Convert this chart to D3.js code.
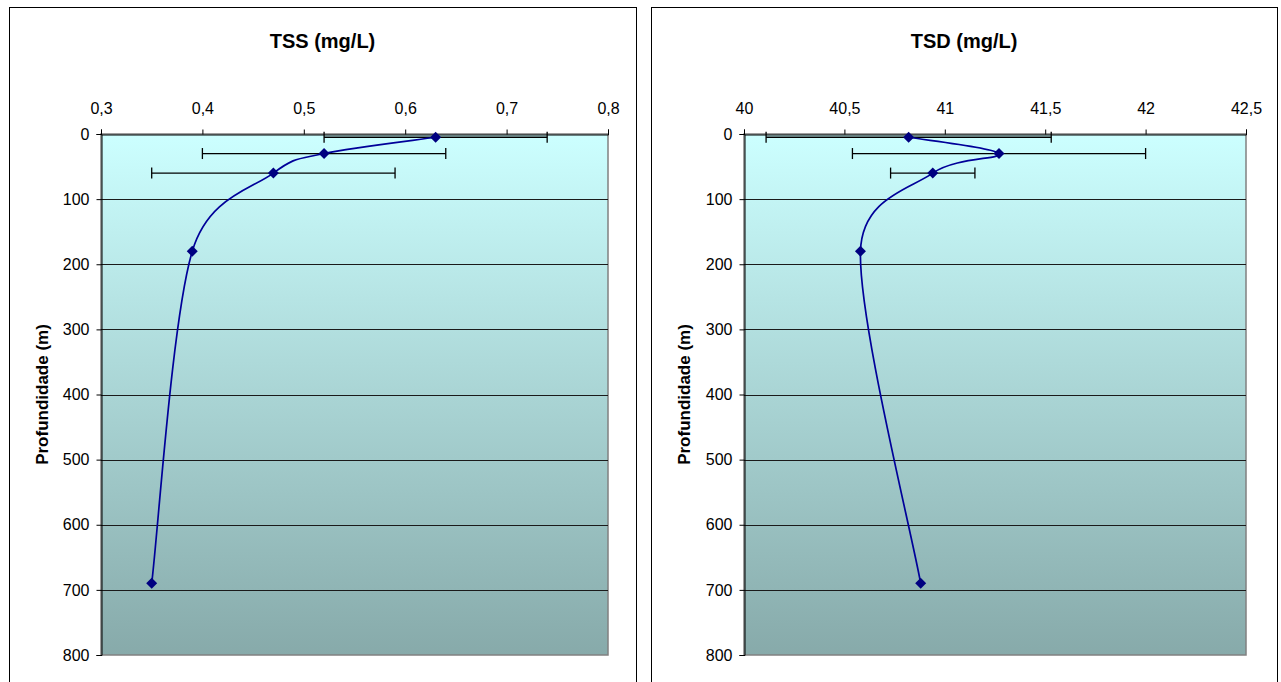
<!DOCTYPE html>
<html>
<head>
<meta charset="utf-8">
<script src="https://cdn.jsdelivr.net/npm/d3@7"></script>
<style>
  body { margin: 0; background: #fff; }
  svg { display: block; font-family: "Liberation Sans", Arial, sans-serif; }
</style>
</head>
<body>
<svg id="chart" width="1281" height="682"></svg>
<script>
// depth (m) of each sample
const depths = [5, 30, 60, 180, 690];

// TSS (mg/L)
const tssValues = [0.63, 0.52, 0.47, 0.39, 0.35];
const tssErrLow = [0.52, 0.40, 0.35, null, null];
const tssErrHigh = [0.74, 0.64, 0.59, null, null];
const tssTicks = [0.3, 0.4, 0.5, 0.6, 0.7, 0.8];

// TSD (mg/L)
const tsdValues = [40.82, 41.27, 40.94, 40.58, 40.88];
const tsdErrLow = [40.11, 40.54, 40.73, null, null];
const tsdErrHigh = [41.53, 42.0, 41.15, null, null];
const tsdTicks = [40, 40.5, 41, 41.5, 42, 42.5];

const depthTicks = [0, 100, 200, 300, 400, 500, 600, 700, 800];

const svg = d3.select("#chart");
const fmt = d => String(d).replace(".", ",");

// spreadsheet-style smoothing: catmull-rom tangents, arms capped at half the segment
function curveSmooth(context) {
    let pts = [];
    return {
        areaStart() {}, areaEnd() {},
        lineStart() { pts = []; },
        point(x, y) { pts.push([+x, +y]); },
        lineEnd() {
            const n = pts.length;
            if (!n) return;
            context.moveTo(pts[0][0], pts[0][1]);
            const tan = pts.map((p, i) => {
                const a = pts[Math.max(i - 1, 0)], b = pts[Math.min(i + 1, n - 1)];
                return [(b[0] - a[0]) / 6, (b[1] - a[1]) / 6];
            });
            const cap = (t, len) => {
                const l = Math.hypot(t[0], t[1]);
                const k = l > len * 0.5 ? (len * 0.5) / l : 1;
                return [t[0] * k, t[1] * k];
            };
            for (let i = 0; i < n - 1; i++) {
                const p0 = pts[i], p1 = pts[i + 1];
                const len = Math.hypot(p1[0] - p0[0], p1[1] - p0[1]);
                const t0 = cap(tan[i], len), t1 = cap(tan[i + 1], len);
                context.bezierCurveTo(p0[0] + t0[0], p0[1] + t0[1],
                    p1[0] - t1[0], p1[1] - t1[1], p1[0], p1[1]);
            }
        }
    };
}

// gradient for plot area
const defs = svg.append("defs");
const grad = defs.append("linearGradient")
    .attr("id", "bg").attr("x1", 0).attr("y1", 0).attr("x2", 0).attr("y2", 1);
grad.append("stop").attr("offset", "0%").attr("stop-color", "#ccffff");
grad.append("stop").attr("offset", "100%").attr("stop-color", "#87aaaa");

function drawPanel(opts) {
    const { left, right, plotLeft, plotRight, title, values, errLow, errHigh, ticks } = opts;
    const plotTop = 134, plotBottom = 655;

    // panel frame
    svg.append("rect")
        .attr("x", left + 0.5).attr("y", 7.5)
        .attr("width", right - left).attr("height", 700)
        .attr("fill", "#fff").attr("stroke", "#000").attr("stroke-width", 1);

    const x = d3.scaleLinear().domain(d3.extent(ticks)).range([plotLeft, plotRight]);
    const y = d3.scaleLinear().domain([0, 800]).range([plotTop, plotBottom]);

    // plot area
    svg.append("rect")
        .attr("x", plotLeft).attr("y", plotTop)
        .attr("width", plotRight - plotLeft).attr("height", plotBottom - plotTop)
        .attr("fill", "url(#bg)")
        .attr("stroke", "#808080").attr("stroke-width", 1.5);

    // gridlines
    svg.append("g").selectAll("line")
        .data(depthTicks.filter(d => d > 0 && d < 800))
        .enter().append("line")
        .attr("x1", plotLeft).attr("x2", plotRight)
        .attr("y1", d => Math.round(y(d)) + 0.5).attr("y2", d => Math.round(y(d)) + 0.5)
        .attr("stroke", "#1a1a1a").attr("stroke-width", 1);

    // top axis
    const xAxis = svg.append("g")
        .attr("transform", `translate(0,${plotTop + 0.5})`)
        .call(d3.axisTop(x).tickValues(ticks).tickFormat(fmt).tickSize(5).tickPadding(16));
    xAxis.select(".domain").attr("stroke", "#000");
    xAxis.selectAll("text").attr("font-size", 16).attr("fill", "#000")
        .attr("font-family", "Liberation Sans, Arial, sans-serif");

    // left axis
    const yAxis = svg.append("g")
        .attr("transform", `translate(${plotLeft + 0.5},0)`)
        .call(d3.axisLeft(y).tickValues(depthTicks).tickSize(5).tickPadding(7));
    yAxis.select(".domain").attr("stroke", "#000");
    yAxis.selectAll("text").attr("font-size", 16).attr("fill", "#000")
        .attr("font-family", "Liberation Sans, Arial, sans-serif");

    // title
    svg.append("text")
        .attr("x", (left + right) / 2).attr("y", 48)
        .attr("text-anchor", "middle")
        .attr("font-size", 20).attr("font-weight", "bold")
        .text(title);

    // y label
    svg.append("text")
        .attr("transform", `translate(${left + 39},${(plotTop + plotBottom) / 2}) rotate(-90)`)
        .attr("text-anchor", "middle")
        .attr("font-size", 17).attr("font-weight", "bold")
        .text("Profundidade (m)");

    // error bars
    const errs = depths.map((d, i) => ({ d, lo: errLow[i], hi: errHigh[i] })).filter(e => e.lo != null);
    const eg = svg.append("g").attr("stroke", "#000").attr("stroke-width", 1.3);
    errs.forEach(e => {
        const yy = y(e.d);
        eg.append("line").attr("x1", x(e.lo)).attr("x2", x(e.hi)).attr("y1", yy).attr("y2", yy);
        eg.append("line").attr("x1", x(e.lo)).attr("x2", x(e.lo)).attr("y1", yy - 5.5).attr("y2", yy + 5.5);
        eg.append("line").attr("x1", x(e.hi)).attr("x2", x(e.hi)).attr("y1", yy - 5.5).attr("y2", yy + 5.5);
    });

    // smoothed profile line
    const pts = depths.map((d, i) => [values[i], d]);
    const line = d3.line()
        .x(p => x(p[0]))
        .y(p => y(p[1]))
        .curve(curveSmooth);
    svg.append("path")
        .datum(pts)
        .attr("fill", "none")
        .attr("stroke", "#000099")
        .attr("stroke-width", 1.7)
        .attr("d", line);

    // diamond markers
    svg.append("g").selectAll("path")
        .data(pts)
        .enter().append("path")
        .attr("transform", p => `translate(${x(p[0])},${y(p[1])})`)
        .attr("d", "M0,-5.5L5.5,0L0,5.5L-5.5,0Z")
        .attr("fill", "#000080");
}

drawPanel({
    left: 9, right: 636, plotLeft: 101, plotRight: 608,
    title: "TSS (mg/L)", values: tssValues, errLow: tssErrLow, errHigh: tssErrHigh, ticks: tssTicks
});
drawPanel({
    left: 651, right: 1277, plotLeft: 744, plotRight: 1246,
    title: "TSD (mg/L)", values: tsdValues, errLow: tsdErrLow, errHigh: tsdErrHigh, ticks: tsdTicks
});
</script>
</body>
</html>
